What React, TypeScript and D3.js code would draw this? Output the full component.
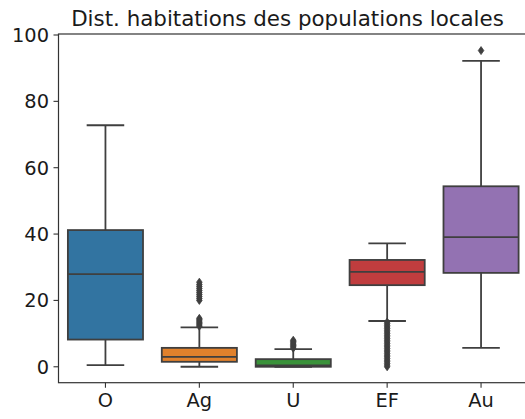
import React from "react";
import * as d3 from "d3";

const categories = ["O", "Ag", "U", "EF", "Au"];
const whiskerLow = [0.5, 0.0, 0.0, 13.8, 5.7];
const q1 = [8.2, 1.5, 0.0, 24.6, 28.3];
const median = [27.9, 3.0, 0.4, 28.6, 39.1];
const q3 = [41.2, 5.7, 2.3, 32.2, 54.4];
const whiskerHigh = [72.8, 11.9, 5.3, 37.2, 92.2];
const outliersO: number[] = [];
const outliersAg = [12.2, 12.6, 13.0, 13.4, 13.8, 14.2, 14.6, 20.0, 20.6, 21.2, 21.8, 22.4, 23.0, 23.6, 24.2, 24.8, 25.5];
const outliersU = [5.6, 6.0, 6.4, 6.8, 7.2, 7.6, 8.0];
const outliersEF = [0.0, 0.5, 1.0, 1.5, 2.0, 2.5, 3.0, 3.5, 4.0, 4.5, 5.0, 5.5, 6.0, 6.5, 7.0, 7.5, 8.0, 8.5, 9.0, 9.5, 10.0, 10.5, 11.0, 11.5, 12.0, 12.5, 13.0, 13.5];
const outliersAu = [95.3];
const outliers = [outliersO, outliersAg, outliersU, outliersEF, outliersAu];
const colors = ["#3274a1", "#e1812c", "#3a923a", "#c03d3e", "#9372b2"];
const yTicks = [0, 20, 40, 60, 80, 100];
const title = "Dist. habitations des populations locales";

const W = 525;
const H = 419;
const left = 58.5;
const right = 528;
const top = 34;
const bottom = 382.7;
const line = "#3f3f3f";
const font = "DejaVu Sans, sans-serif";

export default function App() {
  const x = d3.scaleBand<string>().domain(categories).range([left, right]).paddingInner(0).paddingOuter(0);
  const y = d3.scaleLinear().domain([-4.8, 100.3]).range([bottom, top]);
  const bw = x.bandwidth();
  const boxW = bw * 0.8;
  const capW = boxW / 2;
  const diamond = (cx: number, cy: number) => {
    const h = 4, w = 2.8;
    return `M${cx},${cy - h}L${cx + w},${cy}L${cx},${cy + h}L${cx - w},${cy}Z`;
  };
  return (
    <svg width={W} height={H} style={{ position: "absolute", left: 0, top: 0, background: "#fff" }} overflow="hidden">
      <text x={287.5} y={26} textAnchor="middle" fontFamily={font} fontSize={21.4} fill="#1a1a1a">{title}</text>
      {categories.map((c, i) => {
        const cx = x(c)! + bw / 2;
        return (
          <g key={c}>
            <line x1={cx} x2={cx} y1={y(whiskerLow[i])} y2={y(q1[i])} stroke={line} strokeWidth={1.8} />
            <line x1={cx} x2={cx} y1={y(q3[i])} y2={y(whiskerHigh[i])} stroke={line} strokeWidth={1.8} />
            <line x1={cx - capW / 2} x2={cx + capW / 2} y1={y(whiskerLow[i])} y2={y(whiskerLow[i])} stroke={line} strokeWidth={1.8} />
            <line x1={cx - capW / 2} x2={cx + capW / 2} y1={y(whiskerHigh[i])} y2={y(whiskerHigh[i])} stroke={line} strokeWidth={1.8} />
            <rect x={cx - boxW / 2} y={y(q3[i])} width={boxW} height={y(q1[i]) - y(q3[i])} fill={colors[i]} stroke={line} strokeWidth={1.8} />
            <line x1={cx - boxW / 2} x2={cx + boxW / 2} y1={y(median[i])} y2={y(median[i])} stroke={line} strokeWidth={1.8} />
            {outliers[i].map((v, j) => (
              <path key={j} d={diamond(cx, y(v))} fill={line} stroke={line} strokeWidth={0.8} />
            ))}
          </g>
        );
      })}
      <rect x={left} y={top} width={right - left} height={bottom - top} fill="none" stroke="#333" strokeWidth={1.2} />
      {yTicks.map((t) => (
        <g key={t}>
          <line x1={left - 5} x2={left} y1={y(t)} y2={y(t)} stroke="#333" strokeWidth={1.1} />
          <text x={left - 9.5} y={y(t)} dy="0.36em" textAnchor="end" fontFamily={font} fontSize={19.4} fill="#1a1a1a">{t}</text>
        </g>
      ))}
      {categories.map((c) => {
        const cx = x(c)! + bw / 2;
        return (
          <g key={c}>
            <line x1={cx} x2={cx} y1={bottom} y2={bottom + 5} stroke="#333" strokeWidth={1.1} />
            <text x={cx} y={bottom + 24} textAnchor="middle" fontFamily={font} fontSize={19.4} fill="#1a1a1a">{c}</text>
          </g>
        );
      })}
    </svg>
  );
}
